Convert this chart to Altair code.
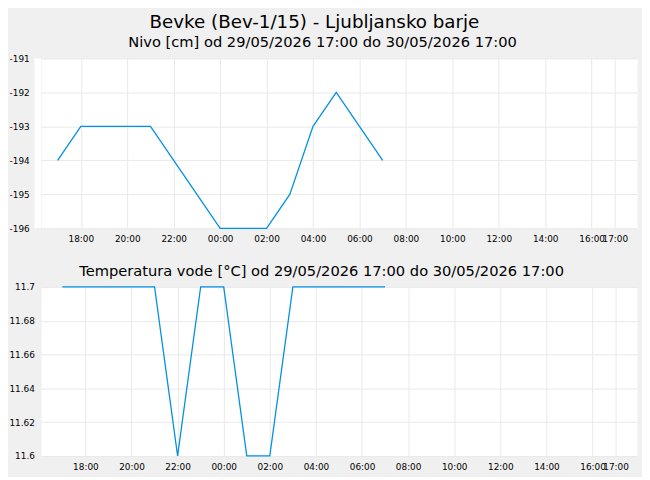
import altair as alt
import pandas as pd

# ---- data ----
times = [
    "2026-05-29T17:00:00", "2026-05-29T18:00:00", "2026-05-29T19:00:00",
    "2026-05-29T20:00:00", "2026-05-29T21:00:00", "2026-05-29T22:00:00",
    "2026-05-29T23:00:00", "2026-05-30T00:00:00", "2026-05-30T01:00:00",
    "2026-05-30T02:00:00", "2026-05-30T03:00:00", "2026-05-30T04:00:00",
    "2026-05-30T05:00:00", "2026-05-30T06:00:00", "2026-05-30T07:00:00",
]
level_cm = [-194, -193, -193, -193, -193, -194, -195, -196, -196, -196,
            -195, -193, -192, -193, -194]
temp_c = [11.7, 11.7, 11.7, 11.7, 11.7, 11.6, 11.7, 11.7, 11.6, 11.6,
          11.7, 11.7, 11.7, 11.7, 11.7]

# x tick positions (date, hour)
x_tick_list = [
    (29, 18), (29, 20), (29, 22), (30, 0), (30, 2), (30, 4), (30, 6),
    (30, 8), (30, 10), (30, 12), (30, 14), (30, 16), (30, 17),
]
level_ticks = [-196, -195, -194, -193, -192, -191]
temp_ticks = [11.6, 11.62, 11.64, 11.66, 11.68, 11.7]

main_title = "Bevke (Bev-1/15) - Ljubljansko barje"
level_title = "Nivo [cm] od 29/05/2026 17:00 do 30/05/2026 17:00"
temp_title = "Temperatura vode [°C] od 29/05/2026 17:00 do 30/05/2026 17:00"

LINE = "#0090e4"
GRID = "#e8e8e8"
FONT = "DejaVu Sans"

TOP_W, TOP_H = 610, 174
BOT_W, BOT_H = 610, 173
TOP_EXTRA = 7  # the level panel reaches a little further left than the temperature panel

df = pd.DataFrame({"time": pd.to_datetime(times), "level": level_cm, "temp": temp_c})

x_domain = [
    alt.DateTime(year=2026, month=5, date=29, hours=16, minutes=5),
    alt.DateTime(year=2026, month=5, date=30, hours=17, minutes=56),
]
x_values = [alt.DateTime(year=2026, month=5, date=d, hours=h) for d, h in x_tick_list]


def x_enc(rng=None, pad=6):
    sc = alt.Scale(domain=x_domain, range=rng) if rng else alt.Scale(domain=x_domain)
    return alt.X(
        "time:T",
        title=None,
        scale=sc,
        axis=alt.Axis(
            values=x_values, format="%H:%M", labelOverlap=False, labelFlush=False,
            ticks=False, tickSize=0, domain=False, labelPadding=pad, grid=True,
        ),
    )


# white strip extending the level panel's plot background to the left
strip = alt.Chart(alt.InlineData(values=[{"k": 1}])).mark_rect(fill="white").encode(
    x=alt.value(-TOP_EXTRA), x2=alt.value(0), y=alt.value(0), y2=alt.value(TOP_H),
)

top_line = alt.Chart(df).mark_line(color=LINE, strokeWidth=1.3, clip=False).encode(
    x=x_enc([-5, 609.4], 6),
    y=alt.Y(
        "level:Q", title=None,
        scale=alt.Scale(domain=[-196, -191], nice=False, zero=False),
        axis=alt.Axis(values=level_ticks, labelExpr="'' + datum.value", ticks=False,
                      tickSize=0, domain=False, labelPadding=12.3, grid=True),
    ),
)

top = alt.layer(strip, top_line).properties(
    width=TOP_W, height=TOP_H,
    title=alt.TitleParams(level_title, fontSize=15, fontWeight="normal", dx=-17, offset=5,
                          color="black", font=FONT),
)

bottom = alt.Chart(df).mark_line(color=LINE, strokeWidth=1.3, clip=False).encode(
    x=x_enc(None, 7),
    y=alt.Y(
        "temp:Q", title=None,
        scale=alt.Scale(domain=[11.6, 11.7], nice=False, zero=False),
        axis=alt.Axis(values=temp_ticks, format=".4~g", ticks=False, tickSize=0,
                      domain=False, labelPadding=7, grid=True),
    ),
).properties(
    width=BOT_W, height=BOT_H,
    title=alt.TitleParams(temp_title, fontSize=15, fontWeight="normal", dx=-18, offset=4,
                          color="black", font=FONT),
)

chart = alt.vconcat(
    top, bottom, spacing=20,
    title=alt.TitleParams(main_title, fontSize=18.7, fontWeight="normal", dx=-11,
                          anchor="middle", color="black", font=FONT, offset=3),
).configure(
    background="#f0f0f0",
    padding={"left": 0, "top": -1, "right": 0, "bottom": -1},
    font=FONT,
).configure_view(
    fill="white", stroke="transparent",
).configure_axis(
    labelFont=FONT, labelFontSize=9.1, labelColor="black", gridColor=GRID, gridWidth=1,
)

chart.save("out.html", embed_options={"renderer": "svg", "actions": False})
